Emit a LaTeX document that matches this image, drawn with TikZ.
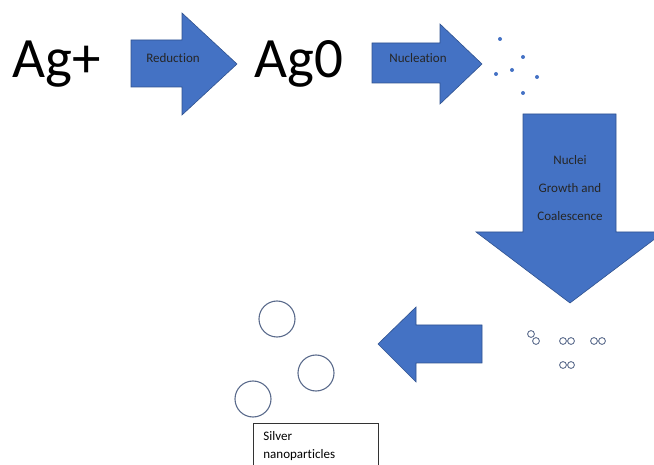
\documentclass[tikz,border=0pt]{standalone}
\usepackage{fontspec}
\setmainfont{Carlito}[Ligatures=NoCommon]
\usepackage{tikz}
\usetikzlibrary{positioning}
\definecolor{arrowblue}{HTML}{4472C4}
\definecolor{arrowedge}{HTML}{2F528F}
\definecolor{ringgray}{HTML}{5B6B8C}

\begin{document}
\begin{tikzpicture}[
x=1pt,y=-1pt,
BlueArrow/.style={fill=arrowblue,draw=arrowedge,line width=0.6pt},
ArrowText/.style={font=\fontsize{13}{15}\selectfont,text=black!85},
BigText/.style={font=\fontsize{57}{68}\selectfont,anchor=base west,inner sep=0pt},
MyDots/.style={fill=arrowblue},
Rings/.style={draw=ringgray,line width=1.1pt},
SmallRings/.style={draw=ringgray,line width=0.9pt},
TextBox/.style={draw=black!80,line width=0.8pt,align=left,text width=105pt,inner xsep=10pt,inner ysep=8pt,text depth=20pt,anchor=north west,font=\fontsize{13}{18}\selectfont}
]

\useasboundingbox (0,0) rectangle (654,465);
\clip (0,0) rectangle (654,465);

% ions and atoms
\node[BigText] (agplus) at (12,78) {Ag+};
\node[BigText] (agzero) at (254,78) {Ag0};

% reduction step
\filldraw[BlueArrow] (131,40) -- (182,40) -- (182,13) -- (237,64) -- (182,115) -- (182,87) -- (131,87) -- cycle;
\node[ArrowText] (reduction) at (173,58) {Reduction};

% nucleation step
\filldraw[BlueArrow] (372,43) -- (440,43) -- (440,24) -- (482,64) -- (440,104) -- (440,83) -- (372,83) -- cycle;
\node[ArrowText] (nucleation) at (418,58) {Nucleation};

% nuclei
\foreach \x/\y in {500/39, 523/57, 496/74, 512/70, 537/77, 523/93}
  \fill[MyDots] (\x,\y) circle (2);

% growth step (down)
\filldraw[BlueArrow] (523,114) -- (616,114) -- (616,232) -- (664,232) -- (570,303) -- (476,232) -- (523,232) -- cycle;
\node[ArrowText,align=center,font=\fontsize{13}{28}\selectfont] (growth) at (570,188) {Nuclei\\Growth and\\Coalescence};

% coalescing nuclei
\foreach \x/\y in {531/334, 536/341, 563/341, 571/341, 594/341, 602/341, 563/365, 571/365}
  \draw[SmallRings] (\x,\y) circle (3.4);

% last step (left)
\filldraw[BlueArrow] (482,325) -- (416,325) -- (416,307) -- (378,344) -- (416,382) -- (416,363) -- (482,363) -- cycle;

% nanoparticles
\draw[Rings] (277,319) circle (18);
\draw[Rings] (316,373) circle (18);
\draw[Rings] (253,399) circle (18);

\node[TextBox] (silverbox) at (253,423) {Silver\\nanoparticles};

\end{tikzpicture}
\end{document}
